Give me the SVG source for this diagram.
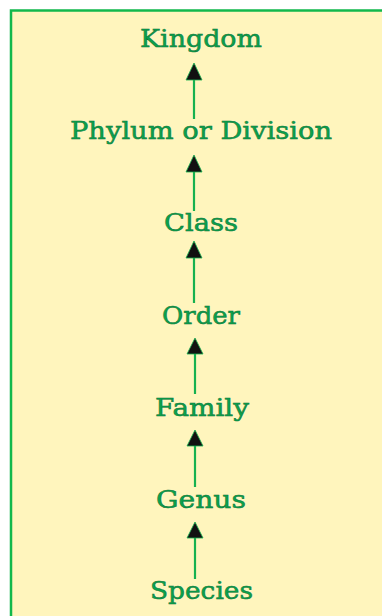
<svg xmlns="http://www.w3.org/2000/svg" width="382" height="616" viewBox="0 0 382 616">
<style>
.lbl{font-family:"DejaVu Serif","Liberation Serif",serif;font-size:25px;fill:#0aa24c;stroke:#0a7438;stroke-width:0.5;text-anchor:middle}
.ln{stroke:#16b14f;stroke-width:2.2;fill:none}
.hd{fill:#111;stroke:#16b14f;stroke-width:0.8}
</style>
<rect x="0" y="0" width="382" height="616" fill="#ffffff"/>
<rect x="11" y="10.5" width="380" height="620" fill="#fff5bd" stroke="#12b84c" stroke-width="2.5"/>
<g id="connectors">
<line class="ln" x1="194" y1="80" x2="194" y2="119"/><polygon class="hd" points="194,63 186,80 202,80"/>
<line class="ln" x1="194" y1="172" x2="194" y2="211"/><polygon class="hd" points="194,155 186,172 202,172"/>
<line class="ln" x1="194" y1="258" x2="194" y2="303"/><polygon class="hd" points="194,241 186,258 202,258"/>
<line class="ln" x1="195" y1="354" x2="195" y2="394"/><polygon class="hd" points="195,338 187,354 203,354"/>
<line class="ln" x1="195" y1="446" x2="195" y2="487"/><polygon class="hd" points="195,430 187,446 203,446"/>
<line class="ln" x1="195" y1="538" x2="195" y2="579"/><polygon class="hd" points="195,522 187,538 203,538"/>
</g>
<g id="kingdom"><text class="lbl" x="201" y="47" textLength="122" lengthAdjust="spacingAndGlyphs">Kingdom</text></g>
<g id="phylum"><text class="lbl" x="201" y="139" textLength="262" lengthAdjust="spacingAndGlyphs">Phylum or Division</text></g>
<g id="class"><text class="lbl" x="201" y="231" textLength="74" lengthAdjust="spacingAndGlyphs">Class</text></g>
<g id="order"><text class="lbl" x="201" y="324" textLength="78" lengthAdjust="spacingAndGlyphs">Order</text></g>
<g id="family"><text class="lbl" x="202" y="416" textLength="94" lengthAdjust="spacingAndGlyphs">Family</text></g>
<g id="genus"><text class="lbl" x="201" y="508" textLength="90" lengthAdjust="spacingAndGlyphs">Genus</text></g>
<g id="species"><text class="lbl" x="201.5" y="599" textLength="103" lengthAdjust="spacingAndGlyphs">Species</text></g>
</svg>
